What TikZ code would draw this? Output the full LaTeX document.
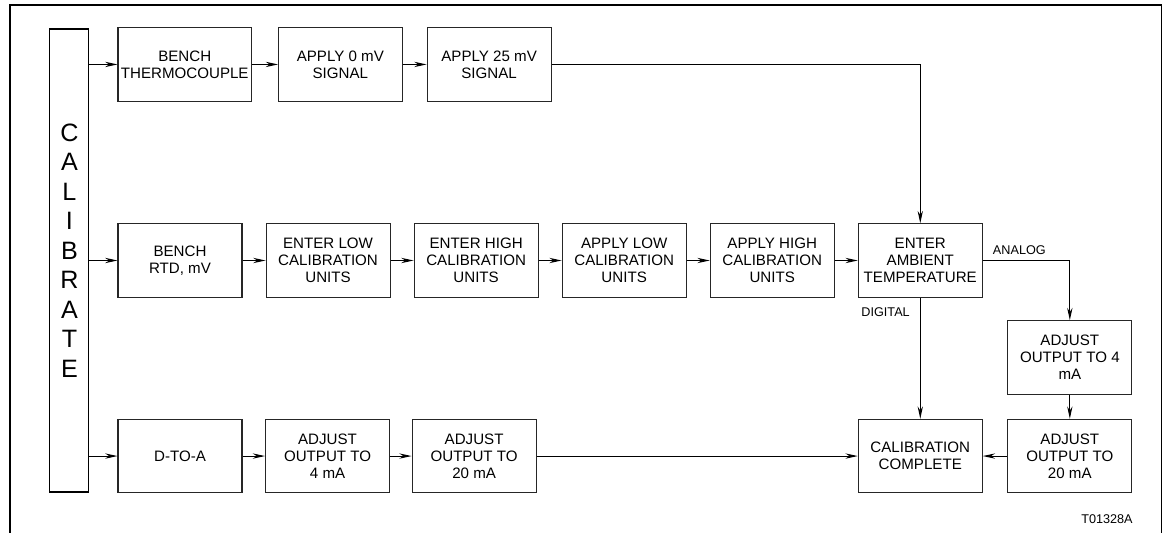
\documentclass[tikz,border=0pt]{standalone}
\usepackage{fontspec}
\setmainfont{Liberation Sans}
\usepackage{tikz}
\usetikzlibrary{arrows.meta, positioning}

\begin{document}
\begin{tikzpicture}[
    block/.style={rectangle, draw=black!85, line width=0.6pt, align=center, minimum width=2.48cm, minimum height=1.47cm, inner sep=0pt, font=\fontsize{8.6}{9.8}\selectfont},
    calbar/.style={rectangle, draw, line width=0.6pt, minimum width=0.78cm, minimum height=9.26cm, inner sep=0pt},
    calfont/.style={align=center, inner sep=0pt, font=\fontsize{14.3}{16.8}\selectfont},
    tag/.style={inner sep=0pt, font=\fontsize{7.2}{8}\selectfont},
    line/.style={draw, line width=0.6pt, -{Stealth[length=7pt, width=3pt]}}
]
\useasboundingbox (0,0) rectangle (23.32,-10.66);

% Frame
\draw[line width=0.7pt] (0.2,-10.8) -- (0.2,-0.1) -- (23.23,-0.1) -- (23.23,-10.8);

% RTD row
\node [block] (brtd) at (3.6,-5.21) {BENCH \\ RTD, mV};
\node [block, right=0.46cm of brtd] (elow) {ENTER LOW \\ CALIBRATION \\ UNITS};
\node [block, right=0.46cm of elow] (ehigh) {ENTER HIGH \\ CALIBRATION \\ UNITS};
\node [block, right=0.46cm of ehigh] (alow) {APPLY LOW \\ CALIBRATION \\ UNITS};
\node [block, right=0.46cm of alow] (ahigh) {APPLY HIGH \\ CALIBRATION \\ UNITS};
\node [block, right=0.46cm of ahigh] (amb) {ENTER \\ AMBIENT \\ TEMPERATURE};

% Thermocouple row
\node [block, minimum width=2.67cm, above=2.43cm of brtd.north west, anchor=south west] (bthermo) {BENCH \\ THERMOCOUPLE};
\node [block, minimum width=2.47cm, right=0.52cm of bthermo] (apply0) {APPLY 0 mV \\ SIGNAL};
\node [block, right=0.48cm of apply0] (apply25) {APPLY 25 mV \\ SIGNAL};

% D-to-A row
\node [block, below=2.42cm of brtd] (dtoa) {D-TO-A};
\node [block, right=0.45cm of dtoa] (adjfour) {ADJUST \\ OUTPUT TO \\ 4 mA};
\node [block, right=0.43cm of adjfour] (adjtwenty) {ADJUST \\ OUTPUT TO \\ 20 mA};

% Analog branch
\node [block, below=2.42cm of amb] (done) {CALIBRATION \\ COMPLETE};
\node [block, right=0.49cm of done] (outtwenty) {ADJUST \\ OUTPUT TO \\ 20 mA};
\node [block, above=0.48cm of outtwenty] (outfour) {ADJUST \\ OUTPUT TO 4 \\ mA};

% Calibrate bar
\node [calbar, left=0.56cm of brtd] (cal) {};
\node [calfont] (caltext) at ([yshift=0.2cm]cal.center) {C\\A\\L\\I\\B\\R\\A\\T\\E};

\node [tag] (tnum) at (22.14,-10.39) {T01328A};

% Connections
\draw [line] (cal.east |- bthermo.west) -- (bthermo.west);
\draw [line] (cal.east |- brtd.west) -- (brtd.west);
\draw [line] (cal.east |- dtoa.west) -- (dtoa.west);
\draw [line] (bthermo) -- (apply0);
\draw [line] (apply0) -- (apply25);
\draw [line] (apply25.east) -| (amb.north);
\draw [line] (brtd) -- (elow);
\draw [line] (elow) -- (ehigh);
\draw [line] (ehigh) -- (alow);
\draw [line] (alow) -- (ahigh);
\draw [line] (ahigh) -- (amb);
\draw [line] (amb.east) -| node[tag, pos=0.21, above=0.11cm] (analog) {ANALOG} (outfour.north);
\draw [line] (amb) -- node[tag, pos=0.12, left=0.2cm] (digital) {DIGITAL} (done);
\draw [line] (outfour) -- (outtwenty);
\draw [line] (outtwenty) -- (done);
\draw [line] (dtoa) -- (adjfour);
\draw [line] (adjfour) -- (adjtwenty);
\draw [line] (adjtwenty.east) -- (done.west |- adjtwenty.east);

\end{tikzpicture}
\end{document}
